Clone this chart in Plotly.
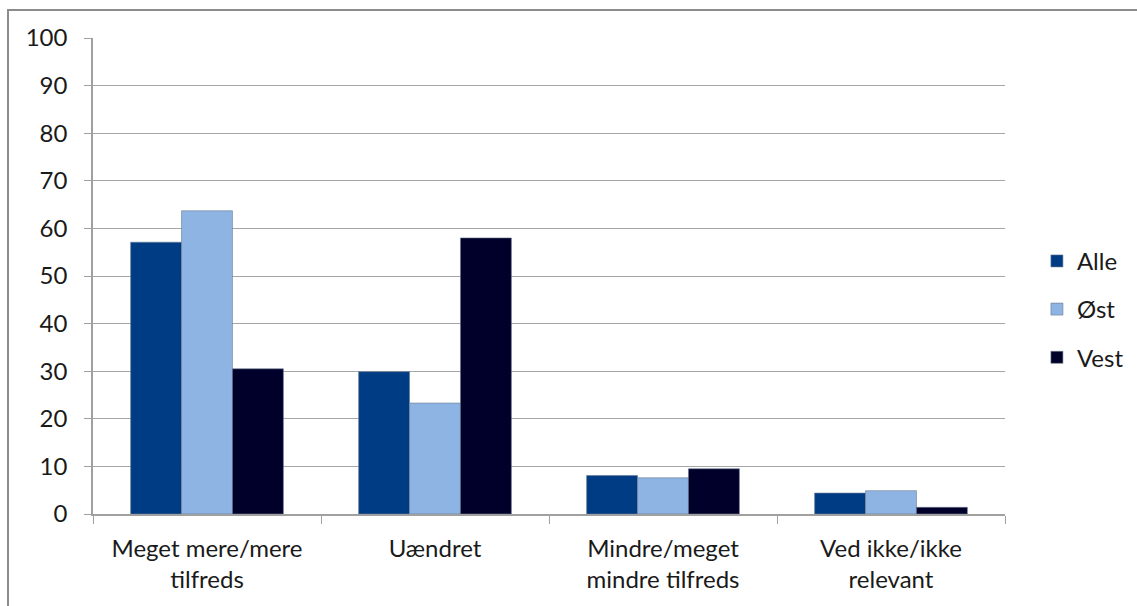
import plotly.graph_objects as go

categories = ["Meget mere/mere<br>tilfreds", "Uændret", "Mindre/meget<br>mindre tilfreds", "Ved ikke/ikke<br>relevant"]
series_names = ["Alle", "Øst", "Vest"]
alle = [57.1, 29.9, 8.1, 4.4]
oest = [63.7, 23.3, 7.6, 4.9]
vest = [30.5, 58.0, 9.5, 1.4]
y_ticks = [0, 10, 20, 30, 40, 50, 60, 70, 80, 90, 100]

colors = ["#003C84", "#8EB4E3", "#00002A"]

fig = go.Figure()
for i, (name, vals) in enumerate(zip(series_names, [alle, oest, vest])):
    fig.add_trace(go.Bar(x=categories, y=vals, name=name, legendgroup=name,
                         marker=dict(color=colors[i], line=dict(color="#6a7a90", width=0.6))))

# chart frame (grey border like the original office chart)
fig.add_shape(type="rect", xref="paper", yref="paper",
              x0=-0.0932, x1=1.3, y0=-0.4, y1=1.0588,
              line=dict(color="#8c8c8c", width=2), layer="below")

fig.update_layout(
    width=1137, height=606,
    margin=dict(l=93, r=132, t=38, b=92, autoexpand=False),
    plot_bgcolor="white", paper_bgcolor="white",
    barmode="group", bargap=0.33, bargroupgap=0,
    font=dict(family="Lato, Open Sans, sans-serif", size=24, color="#1a1a1a"),
    legend=dict(x=1.035, y=0.43, yanchor="middle", xanchor="left",
                traceorder="grouped", tracegroupgap=14, itemwidth=30,
                font=dict(size=24)),
)
fig.update_xaxes(showline=True, linecolor="#a0a0a0", linewidth=1.5,
                 tickson="boundaries", ticks="outside", ticklen=8, tickcolor="#a0a0a0",
                 ticklabelstandoff=12, showgrid=False)
fig.update_yaxes(range=[0, 100], tickvals=y_ticks, showline=True, linecolor="#a0a0a0", linewidth=1.5,
                 ticks="outside", ticklen=7, tickcolor="#a0a0a0", ticklabelstandoff=12,
                 gridcolor="#a6a6a6", gridwidth=1.2, zeroline=False)

fig.write_html("out.html", config={"displayModeBar": False},
               post_script="document.body.style.margin='0';")
